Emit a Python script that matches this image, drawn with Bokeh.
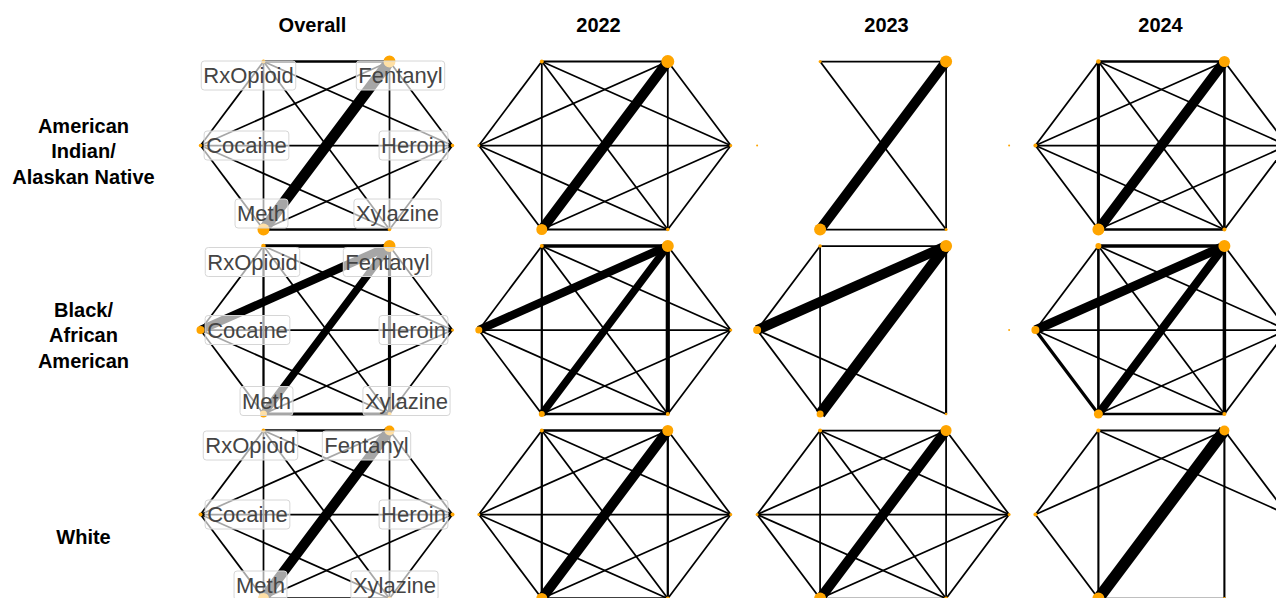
from bokeh.plotting import figure
from bokeh.models import Range1d, ColumnDataSource
from bokeh.core.properties import value
from bokeh.embed import file_html
from bokeh.resources import INLINE

# ---- data ---------------------------------------------------------------
NODES = ["RxOpioid", "Fentanyl", "Cocaine", "Heroin", "Meth", "Xylazine"]
PERIODS = ["Overall", "2022", "2023", "2024"]
GROUPS = ["American\nIndian/\nAlaskan Native", "Black/\nAfrican\nAmerican", "White"]

# every possible drug pair; weights below follow this order (0 = no co-involvement)
EDGE_PAIRS = [
    ("RxOpioid", "Fentanyl"), ("RxOpioid", "Cocaine"), ("RxOpioid", "Heroin"),
    ("RxOpioid", "Meth"), ("RxOpioid", "Xylazine"), ("Fentanyl", "Cocaine"),
    ("Fentanyl", "Heroin"), ("Fentanyl", "Meth"), ("Fentanyl", "Xylazine"),
    ("Cocaine", "Heroin"), ("Cocaine", "Meth"), ("Cocaine", "Xylazine"),
    ("Heroin", "Meth"), ("Heroin", "Xylazine"), ("Meth", "Xylazine"),
]

aian_overall_w = [1.3, 1, 1, 1, 1, 1, 1, 6.2, 1, 1, 1, 1, 1, 1, 1.3]
aian_2022_w = [1.2, 1, 1, 1, 1, 1, 1, 5.7, 1, 1, 1, 1, 1, 1, 1.2]
aian_2023_w = [1, 0, 0, 0, 1, 0, 0, 5.7, 1, 0, 0, 0, 0, 0, 1]
aian_2024_w = [1.3, 1, 1, 1.8, 1, 1, 1, 5.7, 1.5, 1, 1, 1, 1, 1, 1.3]
black_overall_w = [2, 1, 1, 1.3, 1, 4.8, 1, 4.3, 1.8, 1, 1, 1, 1, 1, 1.8]
black_2022_w = [2, 1, 1, 1.3, 1, 4.8, 1, 4.3, 2.4, 1, 1, 1, 1, 1, 1.3]
black_2023_w = [1, 1, 0, 1, 0, 5.7, 0, 6.2, 1.2, 0, 1, 1, 0, 0, 0]
black_2024_w = [2, 1, 1, 1.5, 1, 5.2, 1, 4.8, 2, 1, 1.8, 1, 1, 1, 1.5]
white_overall_w = [1.3, 1, 1, 1, 1, 1, 1, 5.7, 1, 1, 1, 1, 1, 1, 1.3]
white_2022_w = [1.3, 1, 1, 1.3, 1, 1, 1, 5.7, 1.3, 1, 1, 1, 1, 1, 1.3]
white_2023_w = [1, 1, 1, 1, 1, 1, 1, 5.7, 1, 1, 1, 1, 1, 1, 1]
white_2024_w = [1.2, 1, 1, 1.2, 0, 1, 1, 6.6, 1.2, 0, 1, 0, 0, 0, 1]

# node size per drug, in the NODES order
aian_overall_n = [2, 6, 1.8, 1.8, 6, 1.8]
aian_2022_n = [2, 6.5, 1.5, 1.5, 5.5, 1.8]
aian_2023_n = [1.5, 6, 1, 1, 6, 1.5]
aian_2024_n = [2.3, 5.5, 2, 1.8, 6, 2]
black_overall_n = [2.3, 6, 4, 1.5, 3.5, 2]
black_2022_n = [2, 6, 3.5, 1.5, 3, 2]
black_2023_n = [1.8, 6, 4, 1, 3.5, 1.3]
black_2024_n = [3, 6, 4, 1.5, 4.5, 2]
white_overall_n = [2, 5, 2, 2, 5.5, 2]
white_2022_n = [2, 5.5, 1.5, 1.5, 5.5, 2]
white_2023_n = [2, 5.5, 1.5, 1.5, 6, 2]
white_2024_n = [2, 5, 2, 1.5, 6, 1.5]

EDGE_WEIGHTS = [
    [aian_overall_w, aian_2022_w, aian_2023_w, aian_2024_w],
    [black_overall_w, black_2022_w, black_2023_w, black_2024_w],
    [white_overall_w, white_2022_w, white_2023_w, white_2024_w],
]
NODE_SIZES = [
    [aian_overall_n, aian_2022_n, aian_2023_n, aian_2024_n],
    [black_overall_n, black_2022_n, black_2023_n, black_2024_n],
    [white_overall_n, white_2022_n, white_2023_n, white_2024_n],
]

# ---- layout -------------------------------------------------------------
# hexagon layout of the six drugs (unit coordinates, y pointing down)
LAYOUT_X = [-0.5, 0.5, -1.0, 1.0, -0.5, 0.5]
LAYOUT_Y = [-1.0, -1.0, 0.0, 0.0, 1.0, 1.0]
HALF_W, HALF_H = 126.0, 84.0
COL_X0, COL_STEP = 326.0, 278.3
ROW_Y0, ROW_STEP = 145.0, 184.5
TITLE_X = [312, 598, 886, 1160]
TITLE_Y = 24
GROUP_X = 83
GROUP_Y = [151, 335, 536]

# label anchors (pixel offsets from panel centre) for the "Overall" panels
LABEL_DX = [
    [-78, 74, -80, 87, -65, 71],
    [-74, 61, -79, 87, -60, 80],
    [-76, 40, -79, 87, -66, 68],
]
LABEL_DY = [
    [-70, -70, 0, 0, 68, 68],
    [-68, -68, 0, 0, 71, 71],
    [-69, -69, 0, 0, 71, 71],
]

W, H = 1276, 598
ORANGE = "#FFA500"
LW_PER_WEIGHT = 1.75

p = figure(width=W, height=H, output_backend="svg", toolbar_location=None,
           x_range=Range1d(0, W), y_range=Range1d(H, 0),
           min_border=0, outline_line_color=None)
p.axis.visible = False
p.grid.visible = False
p.background_fill_color = "white"
p.border_fill_color = "white"

idx = {n: i for i, n in enumerate(NODES)}

for r, group in enumerate(GROUPS):
    cy = ROW_Y0 + r * ROW_STEP
    for c, period in enumerate(PERIODS):
        cx = COL_X0 + c * COL_STEP
        nx = [cx + HALF_W * u for u in LAYOUT_X]
        ny = [cy + HALF_H * v for v in LAYOUT_Y]

        weights = EDGE_WEIGHTS[r][c]
        e = dict(x0=[], y0=[], x1=[], y1=[], lw=[])
        for (a, b), w in zip(EDGE_PAIRS, weights):
            if w <= 0:
                continue
            ia, ib = idx[a], idx[b]
            e["x0"].append(nx[ia]); e["y0"].append(ny[ia])
            e["x1"].append(nx[ib]); e["y1"].append(ny[ib])
            e["lw"].append(w * LW_PER_WEIGHT)
        p.segment("x0", "y0", "x1", "y1", source=ColumnDataSource(e),
                  line_color="black", line_width="lw")

        sizes = [2 * s for s in NODE_SIZES[r][c]]
        p.scatter(nx, ny, size=sizes, fill_color=ORANGE, line_color=None)

        if period == "Overall":
            lx = [cx + d for d in LABEL_DX[r]]
            ly = [cy + d for d in LABEL_DY[r]]
            p.text(lx, ly, text=NODES, text_font=value("Liberation Sans"),
                   text_font_size="22px", text_color="#444444",
                   text_align="center", text_baseline="middle",
                   background_fill_color="white", background_fill_alpha=0.65,
                   border_line_color="#d6d6d6", border_line_width=1,
                   padding=2, border_radius=3)

# column titles
p.text(TITLE_X, [TITLE_Y] * len(PERIODS), text=PERIODS,
       text_font=value("Liberation Sans"), text_font_style="bold",
       text_font_size="20px", text_color="black",
       text_align="center", text_baseline="middle")

# row (group) labels
p.text([GROUP_X] * len(GROUPS), GROUP_Y,
       text=GROUPS, text_font=value("Liberation Sans"), text_font_style="bold",
       text_font_size="20px", text_color="black", text_line_height=1.15,
       text_align="center", text_baseline="middle")

open("out.html", "w").write(file_html(p, INLINE))
